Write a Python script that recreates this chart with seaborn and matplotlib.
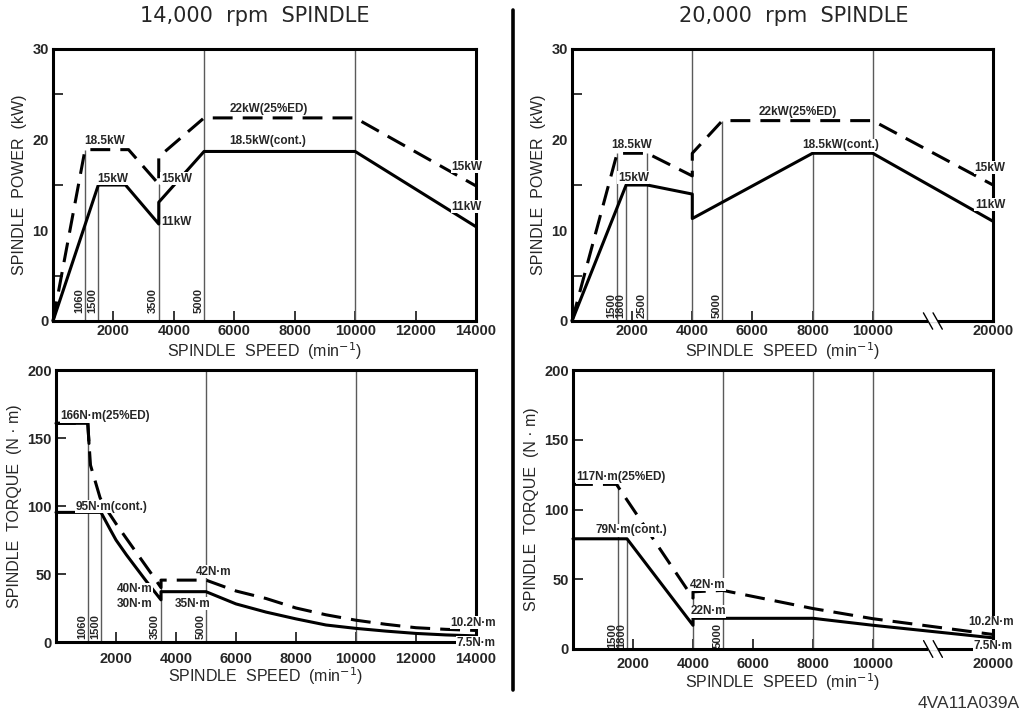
import numpy as np
import seaborn as sns
import matplotlib.pyplot as plt
from matplotlib.lines import Line2D

# ---------------- 14,000 rpm spindle : power (kW) ----------------
p14_speed_cont = [0, 1500, 2400, 3500, 3500, 5000, 10000, 14000]
p14_power_cont = [0, 15.0, 15.0, 10.7, 13.1, 18.7, 18.7, 10.4]
p14_speed_ed = [0, 1060, 2500, 3500, 3500, 5000, 10000, 14000]
p14_power_ed = [0, 18.9, 18.9, 15.1, 18.1, 22.4, 22.4, 14.9]
p14_vline_speed = [1060, 1500, 3500, 5000, 10000]
p14_vline_power = [18.9, 15.0, 15.1, 30, 30]
p14_marked_speed = [1060, 1500, 3500, 5000]
p14_power_notes = [('18.5kW', 1711, 19.9), ('15kW', 1965, 15.7),
                   ('15kW', 4085, 15.7), ('11kW', 4085, 10.9),
                   ('22kW(25%ED)', 7155, 23.4), ('18.5kW(cont.)', 7122, 19.9),
                   ('15kW', 13690, 17.0), ('11kW', 13690, 12.6)]

# ---------------- 20,000 rpm spindle : power (kW) ----------------
p20_speed_cont = [0, 1800, 2500, 4000, 4000, 8000, 10000, 20000]
p20_power_cont = [0, 15.0, 15.0, 14.0, 11.3, 18.5, 18.5, 11.0]
p20_speed_ed = [0, 1500, 2500, 4000, 4000, 5000, 10000, 20000]
p20_power_ed = [0, 18.5, 18.5, 16.0, 18.5, 22.1, 22.1, 15.0]
p20_vline_speed = [1500, 1800, 2500, 4000, 5000, 8000, 10000]
p20_vline_power = [18.5, 15.0, 18.5, 30, 22.1, 18.5, 30]
p20_marked_speed = [1500, 1800, 2500, 5000]
p20_power_notes = [('18.5kW', 1967, 19.4), ('15kW', 2044, 15.8),
                   ('22kW(25%ED)', 7514, 23.1), ('18.5kW(cont.)', 8950, 19.4),
                   ('15kW', 19750, 16.9), ('11kW', 19750, 12.8)]

# ---------------- 14,000 rpm spindle : torque (N·m) ----------------
t14_speed_cont = [0, 1500, 1800, 2000, 2350, 3000, 3500, 3500, 5000, 6000, 7000,
                  8000, 9000, 10000, 11000, 12000, 13000, 14000]
t14_torque_cont = [95.3, 95.3, 83, 75, 64, 45, 31, 37, 37, 28, 22,
                   17, 12.5, 10, 8, 6.3, 5.2, 4.5]
t14_speed_ed = [0, 1060, 1100, 1150, 1470, 1700, 2000, 2350, 2800, 3250, 3500,
                3500, 5000, 6000, 7000, 8000, 9000, 10000, 11000, 12000, 13000, 14000]
t14_torque_ed = [160.8, 160.8, 146, 130, 106, 97, 87, 76, 62, 48, 40,
                 45.5, 45.5, 37.5, 32, 25, 20, 16, 13, 10.5, 9.3, 8.5]
t14_ed_solid_points = 3          # the 25%ED curve starts with a solid step
t14_vline_speed = [1060, 1500, 3500, 5000, 10000]
t14_vline_torque = [160.8, 95.3, 45.5, 200, 200]
t14_marked_speed = [1060, 1500, 3500, 5000]
t14_torque_notes = [('166N·m(25%ED)', 1633, 166.1), ('95N·m(cont.)', 1856, 99.4),
                    ('42N·m', 5244, 51.5), ('40N·m', 2633, 38.8),
                    ('30N·m', 2633, 28.2), ('35N·m', 4544, 28.2),
                    ('10.2N·m', 13911, 14.0), ('7.5N·m', 14000, -0.5)]

# ---------------- 20,000 rpm spindle : torque (N·m) ----------------
t20_speed_cont = [0, 1800, 4000, 4000, 8000, 10000, 20000]
t20_torque_cont = [79, 79, 17, 22, 22, 17, 8]
t20_speed_ed = [0, 1450, 4000, 4000, 5000, 8000, 10000, 20000]
t20_torque_ed = [118, 118, 36.5, 41, 42, 29, 21.7, 10.4]
t20_vline_speed = [1500, 1800, 4000, 5000, 8000, 10000]
t20_vline_torque = [118, 79, 41, 200, 200, 200]
t20_marked_speed = [1500, 1800, 5000]
t20_torque_notes = [('117N·m(25%ED)', 1611, 123.2), ('79N·m(cont.)', 1944, 85),
                    ('42N·m', 4500, 46), ('22N·m', 4500, 27),
                    ('10.2N·m', 19805, 19.1), ('7.5N·m', 20000, 1.9)]

speed_ticks_14 = [2000, 4000, 6000, 8000, 10000, 12000, 14000]
speed_ticks_20 = [2000, 4000, 6000, 8000, 10000, 20000]


def squeeze_fwd(x):
    x = np.asarray(x, dtype=float)
    return np.where(x <= 10000, x, 10000 + (x - 10000) * 0.4)


def squeeze_inv(x):
    x = np.asarray(x, dtype=float)
    return np.where(x <= 10000, x, 10000 + (x - 10000) / 0.4)


sns.set_style('white')
plt.rcParams['font.family'] = ['Liberation Sans', 'DejaVu Sans']
plt.rcParams['mathtext.fontset'] = 'dejavusans'

LW = 2.2
DASH = (0, (6.5, 3.3))
REF_GREY = '#5a5a5a'

fig = plt.figure(figsize=(10.27, 7.14), dpi=100)
W, H = 1027, 714
ax_tl = fig.add_axes([53 / W, 1 - 321 / H, 423 / W, 272 / H])
ax_tr = fig.add_axes([572 / W, 1 - 321 / H, 421 / W, 272 / H])
ax_bl = fig.add_axes([56 / W, 1 - 642 / H, 420 / W, 272 / H])
ax_br = fig.add_axes([573 / W, 1 - 649 / H, 420 / W, 279 / H])

for ax in (ax_tr, ax_br):
    ax.set_xscale('function', functions=(squeeze_fwd, squeeze_inv))


def curve(ax, x, y, dashed=False):
    kw = dict(linestyle=DASH, dash_capstyle='butt') if dashed else {}
    sns.lineplot(x=x, y=y, ax=ax, color='black', lw=LW, estimator=None,
                 sort=False, errorbar=None, zorder=3, clip_on=False, **kw)


def frame(ax, xmax, xticks, ymax, yticks, ymajor_len, xpad):
    ax.set_xlim(0, xmax)
    ax.set_ylim(0, ymax)
    for sp in ax.spines.values():
        sp.set_visible(True)
        sp.set_color('black')
        sp.set_linewidth(LW)
        sp.set_zorder(4)
    ax.set_xticks(xticks)
    ax.set_xticklabels([str(t) for t in xticks])
    ax.set_yticks(yticks)
    ax.tick_params(axis='both', which='both', direction='in', color='black',
                   width=1.1, labelsize=10.5, bottom=True, left=True)
    ax.tick_params(axis='x', length=7, pad=xpad)
    ax.tick_params(axis='y', which='major', length=ymajor_len, pad=3)
    for lbl in ax.get_xticklabels() + ax.get_yticklabels():
        lbl.set_fontweight('bold')


def refs(ax, xs, tops, marked, mark_off):
    ax.vlines(xs, 0, tops, color=REF_GREY, lw=1.0, zorder=1)
    for s in marked:
        ax.annotate(str(s), xy=(s, 0), xytext=(-0.6, mark_off),
                    textcoords='offset points', rotation=90, ha='right',
                    va='bottom', fontsize=8, fontweight='bold', zorder=2)


def notes(ax, items):
    for s, x, y in items:
        ax.text(x, y, s, ha='center', va='center', fontsize=8.5,
                fontweight='bold', zorder=6,
                bbox=dict(fc='white', ec='none', pad=0.3))


xlabel = r'SPINDLE  SPEED  (min$^{-1}$)'

# ---- top left: 14,000 rpm power
ax = ax_tl
refs(ax, p14_vline_speed, p14_vline_power, p14_marked_speed, 5.5)
curve(ax, p14_speed_ed, p14_power_ed, dashed=True)
curve(ax, p14_speed_cont, p14_power_cont)
notes(ax, p14_power_notes)
frame(ax, 14000, speed_ticks_14, 30, [0, 10, 20, 30], 0, 2.5)
ax.set_yticks([5, 15, 25], minor=True)
ax.tick_params(axis='y', which='minor', length=7)
ax.set_xlabel(xlabel, fontsize=11.5, labelpad=1)
ax.set_ylabel('SPINDLE  POWER  (kW)', fontsize=11.5, labelpad=4)

# ---- top right: 20,000 rpm power
ax = ax_tr
refs(ax, p20_vline_speed, p20_vline_power, p20_marked_speed, 2.5)
curve(ax, p20_speed_ed, p20_power_ed, dashed=True)
curve(ax, p20_speed_cont, p20_power_cont)
notes(ax, p20_power_notes)
frame(ax, 20000, speed_ticks_20, 30, [0, 10, 20, 30], 0, 2.5)
ax.set_yticks([5, 15, 25], minor=True)
ax.tick_params(axis='y', which='minor', length=7)
ax.set_xlabel(xlabel, fontsize=11.5, labelpad=1)
ax.set_ylabel('SPINDLE  POWER  (kW)', fontsize=11.5, labelpad=4)

# ---- bottom left: 14,000 rpm torque
ax = ax_bl
refs(ax, t14_vline_speed, t14_vline_torque, t14_marked_speed, 2.5)
curve(ax, t14_speed_ed, t14_torque_ed, dashed=True)
curve(ax, t14_speed_ed[:t14_ed_solid_points], t14_torque_ed[:t14_ed_solid_points])
curve(ax, t14_speed_cont, t14_torque_cont)
notes(ax, t14_torque_notes)
frame(ax, 14000, speed_ticks_14, 200, [0, 50, 100, 150, 200], 7, 7)
ax.set_xlabel(xlabel, fontsize=11.5, labelpad=0)
ax.set_ylabel('SPINDLE  TORQUE  (N · m)', fontsize=11.5, labelpad=4)

# ---- bottom right: 20,000 rpm torque
ax = ax_br
refs(ax, t20_vline_speed, t20_vline_torque, t20_marked_speed, 1)
curve(ax, t20_speed_ed, t20_torque_ed, dashed=True)
curve(ax, t20_speed_cont, t20_torque_cont)
notes(ax, t20_torque_notes)
frame(ax, 20000, speed_ticks_20, 200, [0, 50, 100, 150, 200], 7, 6)
ax.set_xlabel(xlabel, fontsize=11.5, labelpad=0)
ax.set_ylabel('SPINDLE  TORQUE  (N · m)', fontsize=11.5, labelpad=4)

# axis break marks on the squeezed 10000-20000 stretch
for ax in (ax_tr, ax_br):
    to_axes = ax.transData + ax.transAxes.inverted()
    for s in (14600, 15400):
        xa = to_axes.transform((s, 0))[0]
        ax.plot([xa - 0.011, xa + 0.011], [0.03, -0.03], transform=ax.transAxes,
                color='black', lw=1.0, clip_on=False, zorder=7)
    xa0 = to_axes.transform((14600, 0))[0]
    xa1 = to_axes.transform((15400, 0))[0]
    ax.plot([xa0, xa1], [0, 0], transform=ax.transAxes, color='white',
            lw=LW + 0.5, clip_on=False, zorder=6, solid_capstyle='butt')

# titles, divider and drawing code
fig.text(255 / W, 1 - 16 / H, '14,000  rpm  SPINDLE', ha='center', va='center',
         fontsize=15, family='DejaVu Sans')
fig.text(794 / W, 1 - 16 / H, '20,000  rpm  SPINDLE', ha='center', va='center',
         fontsize=15, family='DejaVu Sans')
fig.add_artist(Line2D([513 / W, 513 / W], [1 - 10 / H, 1 - 690 / H],
                      transform=fig.transFigure, color='black', lw=2.6))
fig.text(1020 / W, 1 - 704 / H, '4VA11A039A', ha='right', va='center',
         fontsize=12.5, color='#333333')

fig.savefig('out.png', dpi=100)
